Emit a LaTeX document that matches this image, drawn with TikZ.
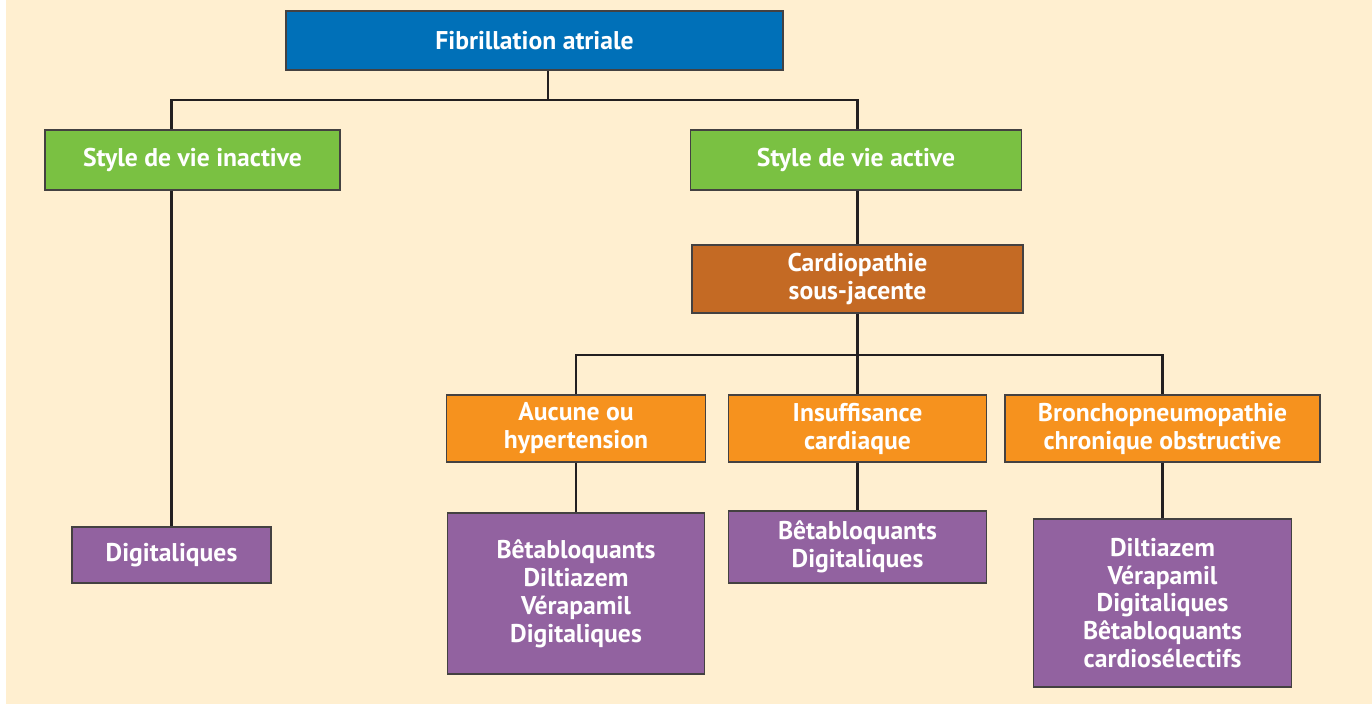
\documentclass[tikz,border=0pt]{standalone}
\usepackage{fontspec}
\setmainfont{PT Sans}
\usetikzlibrary{calc}

\definecolor{fondcreme}{RGB}{255,239,208}
\definecolor{bleufa}{RGB}{0,112,184}
\definecolor{vertvie}{RGB}{122,193,66}
\definecolor{brunsj}{RGB}{196,106,36}
\definecolor{orangecas}{RGB}{246,146,30}
\definecolor{violettt}{RGB}{146,98,160}
\definecolor{trait}{RGB}{35,31,32}

\tikzset{
  box/.style={draw=trait!85,line width=.8pt,inner sep=0pt,align=center,
    text=white,font=\fontsize{14.6}{15.9}\selectfont\bfseries},
  link/.style={draw=trait,line width=1.4pt}
}

\begin{document}
\begin{tikzpicture}[x=0.02cm,y=-0.02cm]
\useasboundingbox (0,0) rectangle (1372,704);
\fill[fondcreme] (6,0) rectangle (1372,704);

% niveaux 1 et 2
\node[box,fill=bleufa,minimum width=9.94cm,minimum height=1.18cm] (fib) at (534.5,40.5) {Fibrillation atriale};
\node[box,fill=vertvie,minimum width=5.9cm,minimum height=1.2cm] (inact) at (192.5,160) {Style de vie inactive};
\node[box,fill=vertvie,minimum width=6.62cm,minimum height=1.2cm] (act) at (856,160) {Style de vie active};
\node[box,fill=brunsj,minimum width=6.62cm,minimum height=1.36cm] (card) at (857.5,279) {Cardiopathie\\sous-jacente};

% cas
\node[box,fill=orangecas,minimum width=5.18cm,minimum height=1.34cm] (auc) at (576,428.5) {Aucune ou\\hypertension};
\node[box,fill=orangecas,minimum width=5.16cm,minimum height=1.34cm] (ins) at (857.5,428.5) {Insuffisance\\cardiaque};
\node[box,fill=orangecas,minimum width=6.3cm,minimum height=1.34cm] (bpco) at (1162.5,428.5) {Bronchopneumopathie\\chronique obstructive};

% traitements
\node[box,fill=violettt,minimum width=3.98cm,minimum height=1.12cm] (dig1) at (171.5,555) {Digitaliques};
\node[box,fill=violettt,minimum width=5.14cm,minimum height=3.22cm] (dig2) at (576,593.5) {B\^etabloquants\\Diltiazem\\V\'erapamil\\Digitaliques};
\node[box,fill=violettt,minimum width=5.16cm,minimum height=1.44cm] (dig3) at (857.5,547) {B\^etabloquants\\Digitaliques};
\node[box,fill=violettt,minimum width=5.16cm,minimum height=3.36cm] (dig4) at (1162.5,603) {Diltiazem\\V\'erapamil\\Digitaliques\\B\^etabloquants\\cardios\'electifs};

\coordinate (bar1) at (548,100);
\coordinate (bar2) at (857.5,355);

\draw[link] (fib.south -| bar1) -- (bar1);
\draw[link] (inact.north -| dig1) -- (dig1 |- bar1) -- (bar1 -| card) -- (act.north -| card);
\draw[link] (inact.south -| dig1) -- (dig1.north);
\draw[link] (act.south -| card) -- (card.north);
\draw[link] (card) -- (ins);
\draw[link] (auc.north) |- (bar2) -| (bpco.north);
\draw[link] (auc) -- (dig2);
\draw[link] (ins) -- (dig3);
\draw[link] (bpco) -- (dig4);
\end{tikzpicture}
\end{document}
